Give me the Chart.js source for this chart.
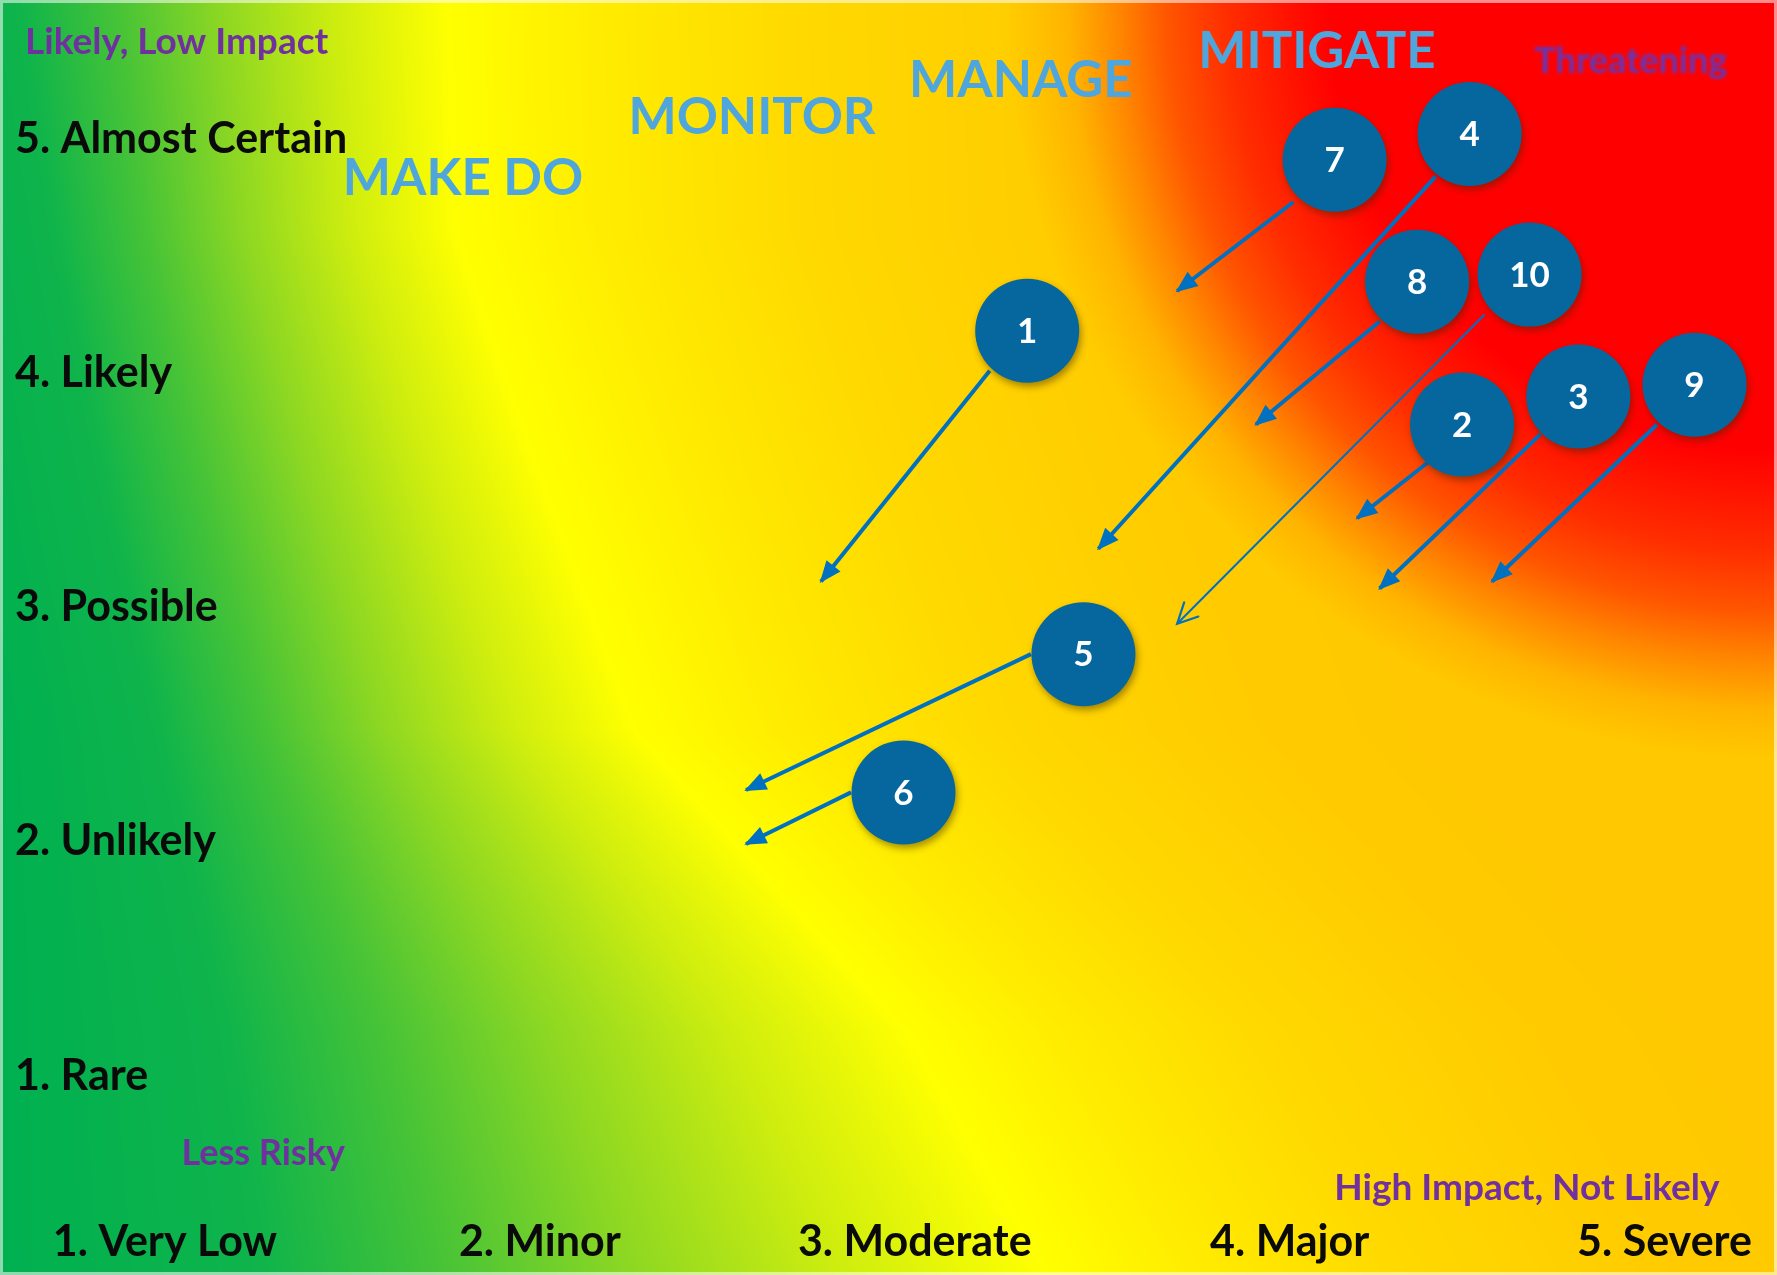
<!DOCTYPE html>
<html>
<head>
<meta charset="utf-8">
<title>Risk Heat Map</title>
<script src="https://cdn.jsdelivr.net/npm/chart.js"></script>
<style>
  html, body { margin: 0; padding: 0; background: #ffffff; overflow: hidden; }
  #wrap { width: 1777px; height: 1275px; }
</style>
</head>
<body>
<div id="wrap"><canvas id="risk" width="1777" height="1275"></canvas></div>
<script>
// ---- Axes -------------------------------------------------------------
const impactTicks = [1, 2, 3, 4, 5];
const impactLabels = ['1. Very Low', '2. Minor', '3. Moderate', '4. Major', '5. Severe'];
const likelihoodTicks = [1, 2, 3, 4, 5];
const likelihoodLabels = ['1. Rare', '2. Unlikely', '3. Possible', '4. Likely', '5. Almost Certain'];

// ---- Risk register ----------------------------------------------------
// current rating (circle) and the planned move to the target rating (arrow)
const riskIds = [1, 2, 3, 4, 5, 6, 7, 8, 9, 10];
const currentImpact     = [3.30, 4.46, 4.77, 4.48, 3.45, 2.97, 4.12, 4.34, 5.08, 4.64];
const currentLikelihood = [4.18, 3.78, 3.90, 5.02, 2.80, 2.21, 4.91, 4.39, 3.95, 4.42];
const arrowFromImpact     = [3.20, 4.37, 4.67, 4.39, 3.31, 2.83, 4.01, 4.24, 4.98, 4.52];
const arrowFromLikelihood = [4.01, 3.62, 3.74, 4.84, 2.80, 2.21, 4.73, 4.22, 3.78, 4.25];
const targetImpact     = [2.75, 4.18, 4.24, 3.49, 2.55, 2.55, 3.70, 3.91, 4.54, 3.70];
const targetLikelihood = [3.11, 3.38, 3.08, 3.25, 2.22, 1.99, 4.35, 3.78, 3.11, 2.93];

// ---- Captions ---------------------------------------------------------
const zoneNames = ['MAKE DO', 'MONITOR', 'MANAGE', 'MITIGATE'];
const cornerNotes = ['Likely, Low Impact', 'Threatening', 'Less Risky', 'High Impact, Not Likely'];

// ---- Look & layout ----------------------------------------------------
const FONT = 'Lato, "Open Sans", "DejaVu Sans", sans-serif';
const CIRCLE_FILL = '#05679E';
const ARROW_BLUE = '#0070C0';
const ZONE_BLUE = '#4FA6DD';
const NOTE_PURPLE = '#7030A0';
const openHeadIds = [10];          // drawn with a thin line and an open head

// caption anchors in impact / likelihood units
const zoneLayout = [
  { x: 1.795, y: 4.83, size: 51 },
  { x: 2.566, y: 5.09, size: 51 },
  { x: 3.283, y: 5.25, size: 51 },
  { x: 4.073, y: 5.37, size: 51 }
];
const noteLayout = [
  { x: 0.627, y: 5.413, size: 37, align: 'left', blur: 0 },
  { x: 4.910, y: 5.33, size: 36, align: 'center', blur: 1.4, color: '#6636B4' },
  { x: 1.262, y: 0.671, size: 36, align: 'center', blur: 0.7 },
  { x: 4.633, y: 0.522, size: 37, align: 'center', blur: 0 }
];

// ---- Colour field behind the plot --------------------------------------
// yellow ridge position (fraction of width) against fraction of height
const ridge = [[0, 0.252], [0.18, 0.256], [0.353, 0.298], [0.573, 0.357], [0.808, 0.51], [1, 0.59]];
const greenRamp = [[0, 255, 255, 0], [0.2, 205, 237, 15], [0.4, 140, 215, 35], [0.58, 70, 195, 55], [0.75, 15, 180, 75], [1, 0, 176, 80]];
const goldRamp = [[0, 255], [150, 236], [350, 217], [600, 204], [800, 200]];
const heatRamp = [[450, 0], [550, 45], [610, 85], [660, 135], [710, 180], [770, 205], [880, 255]];

function interp(stops, t) {
  if (t <= stops[0][0]) return stops[0][1];
  for (let i = 1; i < stops.length; i++) {
    if (t <= stops[i][0]) {
      const a = stops[i - 1], b = stops[i];
      return a[1] + (b[1] - a[1]) * (t - a[0]) / (b[0] - a[0]);
    }
  }
  return stops[stops.length - 1][1];
}
function ramp3(stops, t, out) {
  let i = 1;
  if (t <= stops[0][0]) { out[0] = stops[0][1]; out[1] = stops[0][2]; out[2] = stops[0][3]; return; }
  for (; i < stops.length; i++) if (t <= stops[i][0]) break;
  if (i >= stops.length) { const s = stops[stops.length - 1]; out[0] = s[1]; out[1] = s[2]; out[2] = s[3]; return; }
  const a = stops[i - 1], b = stops[i], f = (t - a[0]) / (b[0] - a[0]);
  out[0] = a[1] + (b[1] - a[1]) * f;
  out[1] = a[2] + (b[2] - a[2]) * f;
  out[2] = a[3] + (b[3] - a[3]) * f;
}

let fieldCache = null;
function buildField(W, H) {
  const c = document.createElement('canvas');
  c.width = W; c.height = H;
  const g = c.getContext('2d');
  const img = g.createImageData(W, H);
  const px = img.data;
  const s = W / 1777;
  const rgb = [0, 0, 0];
  for (let y = 0; y < H; y++) {
    const fy = y / H;
    const xb = interp(ridge, fy) * W;
    const k = 0.78 + 0.22 * Math.min(1, fy / 0.573);
    for (let x = 0; x < W; x++) {
      let r, gg, b;
      if (x < xb) {
        ramp3(greenRamp, (xb - x) / xb * k, rgb);
        r = rgb[0]; gg = rgb[1]; b = rgb[2];
      } else {
        r = 255; b = 0;
        const base = interp(goldRamp, (x - xb) / s);
        const d = Math.hypot(W - x, y) / s;
        gg = Math.min(base, interp(heatRamp, d));
      }
      const o = (y * W + x) * 4;
      px[o] = r; px[o + 1] = gg; px[o + 2] = b; px[o + 3] = 255;
    }
  }
  g.putImageData(img, 0, 0);
  return c;
}

const heatMapPlugin = {
  id: 'heatMap',
  beforeDraw(chart) {
    const { ctx, width, height } = chart;
    if (!fieldCache || fieldCache.width !== width || fieldCache.height !== height) {
      fieldCache = buildField(width, height);
    }
    ctx.save();
    ctx.drawImage(fieldCache, 0, 0);
    ctx.restore();
  },
  beforeDatasetsDraw(chart) {
    const { ctx, scales: { x, y } } = chart;
    ctx.save();
    ctx.textBaseline = 'middle';
    zoneNames.forEach((name, i) => {
      const L = zoneLayout[i];
      ctx.font = `bold ${L.size}px ${FONT}`;
      ctx.fillStyle = ZONE_BLUE;
      ctx.textAlign = 'center';
      ctx.fillText(name, x.getPixelForValue(L.x), y.getPixelForValue(L.y));
    });
    cornerNotes.forEach((note, i) => {
      const L = noteLayout[i];
      ctx.save();
      ctx.font = `bold ${L.size}px ${FONT}`;
      ctx.fillStyle = L.color || NOTE_PURPLE;
      ctx.textAlign = L.align;
      if (L.blur) ctx.filter = `blur(${L.blur}px)`;
      ctx.fillText(note, x.getPixelForValue(L.x), y.getPixelForValue(L.y));
      ctx.restore();
    });
    ctx.restore();
  },
  beforeDatasetDraw(chart, args) {
    if (chart.data.datasets[args.index].kind === 'risk') {
      const ctx = chart.ctx;
      ctx.save();
      ctx.shadowColor = 'rgba(60, 40, 0, 0.45)';
      ctx.shadowBlur = 7;
      ctx.shadowOffsetX = 2;
      ctx.shadowOffsetY = 4;
    }
  },
  afterDatasetDraw(chart, args) {
    const ds = chart.data.datasets[args.index];
    const ctx = chart.ctx;
    if (ds.kind === 'risk') {
      ctx.restore();
      ctx.save();
      ctx.fillStyle = '#ffffff';
      ctx.font = `bold 35px ${FONT}`;
      ctx.textAlign = 'center';
      ctx.textBaseline = 'middle';
      args.meta.data.forEach((pt, i) => {
        ctx.fillText(String(ds.data[i].id), pt.x, pt.y + 1);
      });
      ctx.restore();
    } else if (ds.kind === 'move') {
      const [p0, p1] = args.meta.data;
      const ang = Math.atan2(p1.y - p0.y, p1.x - p0.x);
      ctx.save();
      ctx.translate(p1.x, p1.y);
      ctx.rotate(ang);
      ctx.fillStyle = ARROW_BLUE;
      ctx.strokeStyle = ARROW_BLUE;
      if (ds.openHead) {
        ctx.lineWidth = 2.2;
        ctx.lineCap = 'round';
        ctx.beginPath();
        ctx.moveTo(-20, -10);
        ctx.lineTo(0, 0);
        ctx.lineTo(-20, 10);
        ctx.stroke();
      } else {
        ctx.beginPath();
        ctx.moveTo(2, 0);
        ctx.lineTo(-20, -9);
        ctx.lineTo(-20, 9);
        ctx.closePath();
        ctx.fill();
      }
      ctx.restore();
    }
  },
  afterDraw(chart) {
    const { ctx, width, height } = chart;
    ctx.save();
    ctx.strokeStyle = 'rgba(255, 255, 255, 0.55)';
    ctx.lineWidth = 3;
    ctx.strokeRect(1.5, 1.5, width - 3, height - 3);
    ctx.restore();
  }
};

// ---- Datasets ---------------------------------------------------------
const moveSets = riskIds.map((id, i) => {
  const open = openHeadIds.includes(id);
  return {
    type: 'line',
    kind: 'move',
    openHead: open,
    data: [
      { x: arrowFromImpact[i], y: arrowFromLikelihood[i] },
      { x: targetImpact[i], y: targetLikelihood[i] }
    ],
    borderColor: ARROW_BLUE,
    borderWidth: open ? 2 : 4,
    pointRadius: 0,
    pointHoverRadius: 0,
    fill: false,
    tension: 0,
    order: 2
  };
});

const riskSet = {
  type: 'scatter',
  kind: 'risk',
  data: riskIds.map((id, i) => ({ x: currentImpact[i], y: currentLikelihood[i], id })),
  backgroundColor: CIRCLE_FILL,
  borderWidth: 0,
  pointRadius: 52,
  pointHoverRadius: 52,
  order: 1
};

const tickFont = { family: FONT, size: 43, weight: 'bold' };

// the labels sit inside the plot, so no extra room is reserved around them
function noEdgePadding(scale) {
  scale.paddingTop = 0; scale.paddingBottom = 0;
  scale.paddingLeft = 0; scale.paddingRight = 0;
}

new Chart(document.getElementById('risk'), {
  type: 'scatter',
  data: { datasets: [...moveSets, riskSet] },
  options: {
    responsive: false,
    animation: false,
    devicePixelRatio: 1,
    events: [],
    layout: { padding: 0, autoPadding: false },
    plugins: { legend: { display: false }, tooltip: { enabled: false } },
    scales: {
      x: {
        type: 'linear',
        min: 0.56,
        max: 5.3,
        grid: { display: false, drawTicks: false },
        border: { display: false },
        afterBuildTicks: (scale) => { scale.ticks = impactTicks.map(v => ({ value: v })); },
        afterFit: (scale) => { scale.height = 70; noEdgePadding(scale); },
        ticks: {
          autoSkip: false,
          maxRotation: 0,
          padding: 11,
          color: '#0a0a0a',
          font: tickFont,
          callback: (v) => impactLabels[impactTicks.indexOf(v)] ?? ''
        }
      },
      y: {
        type: 'linear',
        min: 0.449,
        max: 5.592,
        grid: { display: false, drawTicks: false },
        border: { display: false },
        afterBuildTicks: (scale) => { scale.ticks = likelihoodTicks.map(v => ({ value: v })); },
        afterFit: (scale) => { scale.width = 0; noEdgePadding(scale); },
        ticks: {
          mirror: true,
          autoSkip: false,
          padding: 15,
          color: '#0a0a0a',
          font: tickFont,
          callback: (v) => likelihoodLabels[likelihoodTicks.indexOf(v)] ?? ''
        }
      }
    }
  },
  plugins: [heatMapPlugin]
});
</script>
</body>
</html>
